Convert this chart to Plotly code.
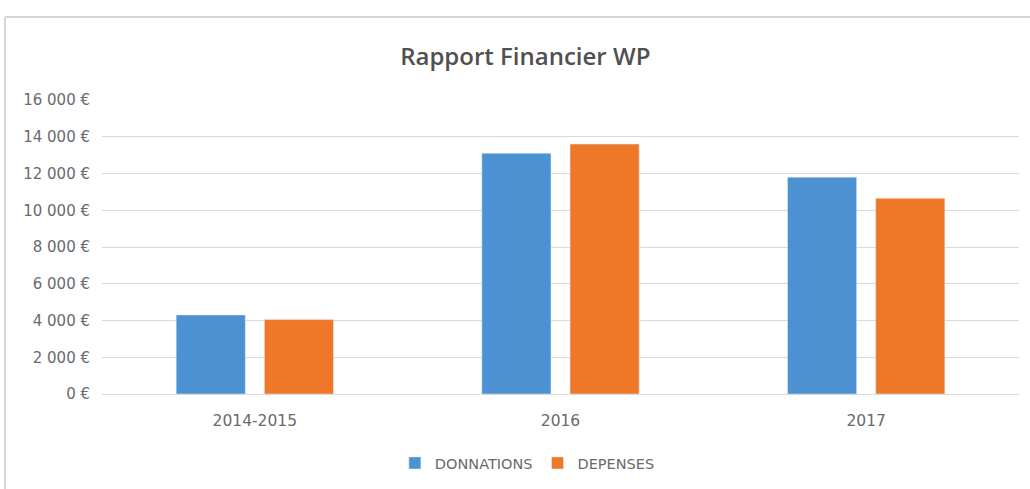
import plotly.graph_objects as go

categories = ["2014-2015", "2016", "2017"]
donnations = [4300, 13100, 11800]
depenses = [4050, 13600, 10650]
tick_values = [0, 2000, 4000, 6000, 8000, 10000, 12000, 14000, 16000]
tick_labels = ["0 €", "2 000 €", "4 000 €", "6 000 €", "8 000 €", "10 000 €", "12 000 €", "14 000 €", "16 000 €"]

fig = go.Figure()
fig.add_trace(go.Bar(name="DONNATIONS", x=categories, y=donnations, marker_color="#4C91D1"))
fig.add_trace(go.Bar(name="DEPENSES", x=categories, y=depenses, marker_color="#EE7828"))

L, R, T, B = 102, 11, 100, 95
W, H = 1030, 489
pw, ph = W - L - R, H - T - B

fig.update_layout(
    width=W, height=H,
    margin=dict(l=L, r=R, t=T, b=B),
    paper_bgcolor="white", plot_bgcolor="white",
    font=dict(family="'DejaVu Sans', sans-serif", color="#6a6a6a", size=15),
    title=dict(text="Rapport Financier WP", x=0.51, xanchor="center", xref="container",
               y=1 - 57 / H, yanchor="middle",
               font=dict(family="'Open Sans', sans-serif", size=24, color="#505050", weight=600)),
    barmode="group", bargap=0.423, bargroupgap=0.216,
    showlegend=True,
    legend=dict(orientation="h", x=0.512, xref="container", xanchor="center",
                y=1 - 463 / H, yref="container", yanchor="middle",
                font=dict(size=14.5, color="#6a6a6a"), traceorder="normal",
                itemwidth=30),
    xaxis=dict(showgrid=False, showline=True, linecolor="#D9D9D9", ticks="",
               ticklabelstandoff=12, tickfont=dict(size=15.5, color="#6a6a6a")),
    yaxis=dict(range=[0, 16000], tickvals=tick_values, ticktext=tick_labels,
               showgrid=True, gridcolor="#D9D9D9", gridwidth=1, zeroline=False,
               ticks="", ticklabelstandoff=11, tickfont=dict(size=15, color="#6a6a6a")),
)

# faint frame lines (top and left) of the chart area
fig.add_shape(type="line", xref="paper", yref="paper",
              x0=(5 - L) / pw, x1=(W - L) / pw, y0=(H - B - 17) / ph, y1=(H - B - 17) / ph,
              line=dict(color="#D6D6D6", width=2), layer="below")
fig.add_shape(type="line", xref="paper", yref="paper",
              x0=(5 - L) / pw, x1=(5 - L) / pw, y0=(H - B - 17) / ph, y1=(H - B - H) / ph,
              line=dict(color="#D6D6D6", width=2), layer="below")

fig.write_html("out.html", config={"displayModeBar": False},
               post_script="document.body.style.margin='0';document.body.style.overflow='hidden';")
